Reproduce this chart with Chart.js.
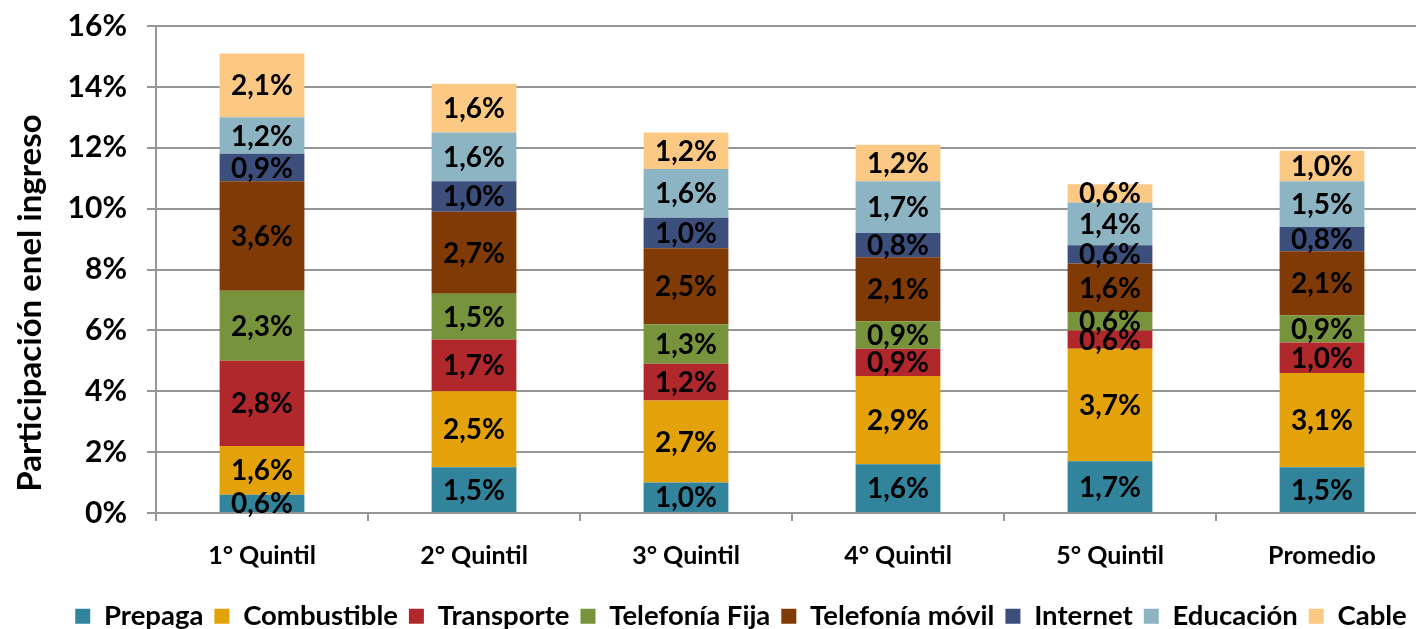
<!DOCTYPE html>
<html>
<head>
<meta charset="utf-8">
<script src="https://cdn.jsdelivr.net/npm/chart.js@4.4.1/dist/chart.umd.min.js"></script>
<style>
  html, body { margin: 0; padding: 0; background: #fff; overflow: hidden; }
  #wrap { width: 1482px; height: 629px; }
</style>
</head>
<body>
<div id="wrap"><canvas id="barChart"></canvas></div>
<script>
const categories = ['1° Quintil', '2° Quintil', '3° Quintil', '4° Quintil', '5° Quintil', 'Promedio'];

const prepaga      = [0.6, 1.5, 1.0, 1.6, 1.7, 1.5];
const combustible  = [1.6, 2.5, 2.7, 2.9, 3.7, 3.1];
const transporte   = [2.8, 1.7, 1.2, 0.9, 0.6, 1.0];
const telFija      = [2.3, 1.5, 1.3, 0.9, 0.6, 0.9];
const telMovil     = [3.6, 2.7, 2.5, 2.1, 1.6, 2.1];
const internet     = [0.9, 1.0, 1.0, 0.8, 0.6, 0.8];
const educacion    = [1.2, 1.6, 1.6, 1.7, 1.4, 1.5];
const cable        = [2.1, 1.6, 1.2, 1.2, 0.6, 1.0];

const yTicks = [0, 2, 4, 6, 8, 10, 12, 14, 16];

const FONT = 'Lato';

const series = [
    { label: 'Prepaga', data: prepaga, color: '#31849b' },
    { label: 'Combustible', data: combustible, color: '#e3a20a' },
    { label: 'Transporte', data: transporte, color: '#b0282b' },
    { label: 'Telefonía Fija', data: telFija, color: '#77933c' },
    { label: 'Telefonía móvil', data: telMovil, color: '#7f3a06' },
    { label: 'Internet', data: internet, color: '#3c4e7c' },
    { label: 'Educación', data: educacion, color: '#8db4c2' },
    { label: 'Cable', data: cable, color: '#fcc985' }
];

// value labels in the middle of each segment
const segmentLabels = {
    id: 'segmentLabels',
    afterDatasetsDraw(chart) {
        const ctx = chart.ctx;
        ctx.save();
        ctx.font = 'bold 28px ' + FONT;
        ctx.fillStyle = '#000';
        ctx.textAlign = 'center';
        ctx.textBaseline = 'middle';
        chart.data.datasets.forEach((ds, i) => {
            const meta = chart.getDatasetMeta(i);
            meta.data.forEach((bar, j) => {
                const v = ds.data[j];
                const y = (bar.y + bar.base) / 2;
                ctx.fillText(v.toFixed(1).replace('.', ',') + '%', bar.x, y + 1);
            });
        });
        ctx.restore();
    }
};

// rotated y axis title
const yTitle = {
    id: 'yTitle',
    afterDraw(chart) {
        const ctx = chart.ctx;
        ctx.save();
        ctx.translate(30, 303);
        ctx.rotate(-Math.PI / 2);
        ctx.font = 'bold 33px ' + FONT;
        ctx.fillStyle = '#000';
        ctx.textAlign = 'center';
        ctx.textBaseline = 'middle';
        ctx.fillText('Participación enel ingreso', 0, 0);
        ctx.restore();
    }
};

const ctxBar = document.getElementById('barChart').getContext('2d');
new Chart(ctxBar, {
    type: 'bar',
    data: {
        labels: categories,
        datasets: series.map(s => ({
            label: s.label,
            data: s.data,
            backgroundColor: s.color,
            borderWidth: 0,
            barPercentage: 0.8,
            categoryPercentage: 0.5
        }))
    },
    options: {
        responsive: true,
        maintainAspectRatio: false,
        animation: false,
        layout: { padding: { left: 0, top: 26, right: 0, bottom: -11 } },
        plugins: {
            legend: {
                position: 'bottom',
                labels: {
                    color: '#000',
                    font: { family: FONT, size: 27.5, weight: 'bold' },
                    boxWidth: 15,
                    boxHeight: 15,
                    padding: 11
                }
            },
            tooltip: { enabled: false }
        },
        scales: {
            x: {
                stacked: true,
                grid: {
                    drawOnChartArea: false,
                    drawTicks: true,
                    tickLength: 8,
                    color: '#969696',
                    lineWidth: 2
                },
                border: { display: true, color: '#969696', width: 2 },
                ticks: {
                    color: '#000',
                    padding: 14,
                    font: { family: FONT, size: 25, weight: 'bold', lineHeight: 1.7 }
                }
            },
            y: {
                stacked: true,
                min: 0,
                max: 16,
                afterFit(scale) {
                    scale.width = 156;
                    scale.paddingTop = 0;
                    scale.paddingBottom = 0;
                },
                afterBuildTicks(scale) { scale.ticks = yTicks.map(v => ({ value: v })); },
                grid: {
                    color: '#969696',
                    lineWidth: 2,
                    tickLength: 9
                },
                border: { display: true, color: '#969696', width: 2 },
                ticks: {
                    color: '#000',
                    padding: 20,
                    font: { family: FONT, size: 30, weight: 'bold' },
                    callback: v => v + '%'
                }
            },
            // empty spacer on the right so the plot runs past the visible edge
            spacer: {
                type: 'linear',
                position: 'right',
                display: true,
                afterFit(scale) { scale.width = 54; },
                grid: { drawOnChartArea: false, drawTicks: false },
                border: { display: false },
                ticks: { display: false }
            }
        }
    },
    plugins: [segmentLabels, yTitle]
});
</script>
</body>
</html>
